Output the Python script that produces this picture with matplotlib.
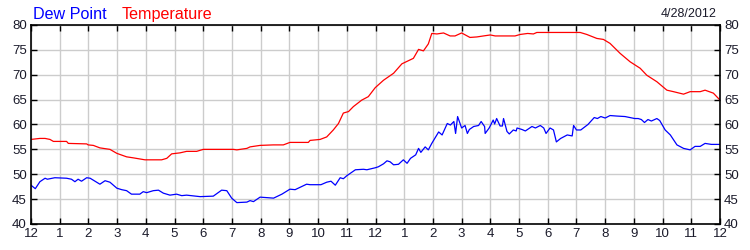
import matplotlib
matplotlib.use("Agg")
import matplotlib.pyplot as plt

# Hours since midnight
temp_hours = [0, 0.31, 0.49, 0.66, 0.78, 1.24, 1.30, 1.94, 1.99, 2.17, 2.40, 2.75, 2.99, 3.33, 3.56,
              3.97, 4.55, 4.73, 4.90, 5.19, 5.42, 5.77, 6.0, 7.05, 7.17, 7.52, 7.63, 7.98, 8.44, 8.79,
              9.02, 9.66, 9.72, 10.07, 10.30, 10.53, 10.71, 10.88, 11.06, 11.23, 11.52, 11.75, 11.99,
              12.28, 12.63, 12.92, 13.32, 13.50, 13.67, 13.84, 13.96, 14.14, 14.37, 14.60, 14.77,
              15.0, 15.29, 15.53, 15.76, 16.0, 16.17, 16.86, 17.04, 17.3, 17.5, 17.62, 19.13, 19.36,
              19.71, 19.94, 20.17, 20.52, 20.87, 21.22, 21.45, 21.80, 22.15, 22.38, 22.73, 22.96,
              23.31, 23.48, 23.77, 24.0]
temperature = [57.0, 57.2, 57.2, 57.0, 56.6, 56.6, 56.2, 56.1, 55.9, 55.8, 55.3, 55.0, 54.2, 53.5, 53.3,
               52.9, 52.9, 53.2, 54.1, 54.3, 54.6, 54.6, 55.0, 55.0, 54.9, 55.2, 55.5, 55.8, 55.9, 55.9,
               56.4, 56.4, 56.8, 57.0, 57.5, 58.9, 60.2, 62.3, 62.6, 63.6, 64.9, 65.6, 67.4,
               68.9, 70.3, 72.2, 73.3, 75.1, 74.8, 76.2, 78.3, 78.2, 78.4, 77.8, 77.8,
               78.4, 77.5, 77.6, 77.8, 78.0, 77.8, 77.8, 78.1, 78.3, 78.2, 78.5, 78.5, 78.1,
               77.3, 77.1, 76.3, 74.3, 72.6, 71.3, 69.9, 68.6, 66.9, 66.6, 66.1, 66.6,
               66.6, 66.9, 66.3, 64.9]

dew_hours = [0, 0.15, 0.31, 0.49, 0.57, 0.66, 0.83, 1.24, 1.41, 1.53, 1.64, 1.76, 1.94, 2.06, 2.23,
             2.40, 2.58, 2.75, 2.99, 3.16, 3.33, 3.50, 3.79, 3.91, 4.03, 4.26, 4.44, 4.61, 4.84,
             5.07, 5.25, 5.42, 5.89, 6.35, 6.64, 6.82, 6.99, 7.17, 7.52, 7.63, 7.75, 7.98, 8.45,
             8.74, 9.02, 9.20, 9.60, 9.72, 10.1, 10.3, 10.45, 10.6, 10.77, 10.88, 11.0, 11.3,
             11.58, 11.7, 11.99, 12.1, 12.28, 12.4, 12.51, 12.63, 12.8, 12.97, 13.1, 13.22, 13.4,
             13.5, 13.58, 13.73, 13.84, 13.96, 14.2, 14.32, 14.5, 14.61, 14.73, 14.79, 14.86,
             15.0, 15.12, 15.2, 15.27, 15.42, 15.59, 15.68, 15.8, 15.82, 15.96, 16.1, 16.15,
             16.22, 16.34, 16.42, 16.46, 16.58, 16.66, 16.8, 16.9, 16.93, 17.1, 17.22, 17.45,
             17.57, 17.74, 17.86, 17.94, 18.08, 18.2, 18.3, 18.45, 18.68, 18.85, 18.9, 19.0,
             19.15, 19.4, 19.62, 19.73, 19.85, 20.0, 20.17, 20.4, 20.69, 21.03, 21.15, 21.26,
             21.37, 21.49, 21.61, 21.80, 21.9, 22.09, 22.27, 22.5, 22.73, 22.96, 23.13, 23.31,
             23.48, 23.7, 24.0]
dew_point = [47.8, 47.1, 48.5, 49.2, 49.0, 49.1, 49.3, 49.2, 49.0, 48.5, 49.0, 48.6, 49.3, 49.2, 48.6,
             48.0, 48.7, 48.4, 47.2, 46.9, 46.7, 46.0, 46.0, 46.5, 46.3, 46.7, 46.8, 46.2, 45.8,
             46.0, 45.7, 45.8, 45.5, 45.6, 46.8, 46.7, 45.2, 44.3, 44.4, 44.7, 44.5, 45.4, 45.2,
             46.0, 47.0, 46.9, 48.0, 47.9, 47.9, 48.4, 48.6, 47.8, 49.3, 49.1, 49.7, 50.9,
             51.0, 50.9, 51.3, 51.5, 52.1, 52.7, 52.5, 51.9, 52.0, 52.9, 52.2, 53.2, 53.9,
             55.2, 54.4, 55.5, 54.9, 56.2, 58.5, 57.9, 60.2, 59.9, 60.6, 58.2, 61.6,
             59.3, 59.8, 58.2, 59.0, 59.6, 59.8, 60.6, 59.6, 58.2, 59.3, 60.9, 60.1,
             61.2, 59.7, 59.7, 61.2, 58.6, 58.1, 58.9, 58.7, 59.3, 59.0, 58.7, 59.6,
             59.3, 59.8, 59.3, 58.2, 59.3, 58.9, 56.5, 57.2, 57.9, 57.7, 59.8, 58.9,
             58.9, 60.0, 61.4, 61.2, 61.6, 61.3, 61.8, 61.7, 61.6, 61.2, 61.2, 61.0,
             60.4, 61.0, 60.7, 61.2, 60.8, 58.9, 57.9, 55.9, 55.2, 54.9, 55.6, 55.6,
             56.2, 56.0, 56.0]

x_ticks = list(range(0, 25))
x_labels = ["12"] + [str(i) for i in range(1, 12)] + ["12"] + [str(i) for i in range(1, 12)] + ["12"]
y_ticks = [40, 45, 50, 55, 60, 65, 70, 75, 80]

plt.rcParams['font.family'] = ['Liberation Sans', 'DejaVu Sans']

fig = plt.figure(figsize=(7.5, 2.5), dpi=100)
ax = fig.add_axes([31 / 750, 1 - 224 / 250, (720 - 31) / 750, (224 - 25) / 250])

ax.plot(temp_hours, temperature, color='#ff0000', linewidth=0.9)
ax.plot(dew_hours, dew_point, color='#0000ff', linewidth=0.9)

ax.set_xlim(0, 24)
ax.set_ylim(40, 80)
ax.set_xticks(x_ticks)
ax.set_xticklabels(x_labels)
ax.set_yticks(y_ticks)
ax.grid(True, color='#cccccc', linewidth=1.0)
ax.set_axisbelow(True)
ax.tick_params(direction='in', length=4, width=1, top=True, right=True,
               labelleft=True, labelright=True, labelsize=9.5, colors='black',
               labelcolor='#1a1a2a', pad=3)
for s in ax.spines.values():
    s.set_linewidth(1.2)
    s.set_color('black')

fig.text(33 / 750, 1 - 19 / 250, "Dew Point", color='#0000ff', fontsize=11.6, va='baseline', ha='left')
fig.text(122 / 750, 1 - 19 / 250, "Temperature", color='#ff0000', fontsize=11.6, va='baseline', ha='left')
fig.text(717 / 750, 1 - 17 / 250, "4/28/2012", color='#1a1a2a', fontsize=9, va='baseline', ha='right')

fig.savefig("out.png", dpi=100)
